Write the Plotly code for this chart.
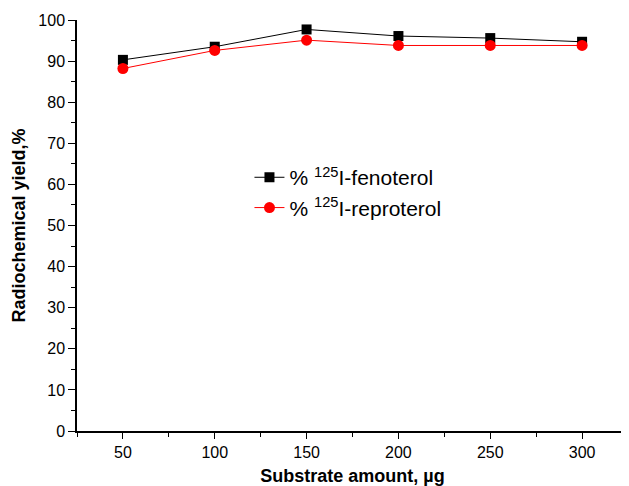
import plotly.graph_objects as go

x_vals = [50, 100, 150, 200, 250, 300]
fenoterol = [90.3, 93.5, 97.7, 96.1, 95.6, 94.7]
reproterol = [88.2, 92.6, 95.1, 93.8, 93.8, 93.8]
x_ticks = [50, 100, 150, 200, 250, 300]
y_ticks = [0, 10, 20, 30, 40, 50, 60, 70, 80, 90, 100]

font = "Liberation Sans, Arial, Helvetica, sans-serif"

fig = go.Figure()
fig.add_trace(go.Scatter(
    x=x_vals, y=fenoterol, mode="lines+markers",
    name="% <sup>125</sup>I-fenoterol",
    line=dict(color="black", width=1),
    marker=dict(symbol="square", size=10, color="black"),
))
fig.add_trace(go.Scatter(
    x=x_vals, y=reproterol, mode="lines+markers",
    name="% <sup>125</sup>I-reproterol",
    line=dict(color="red", width=1),
    marker=dict(symbol="circle", size=11, color="red"),
))

# the page body adds an 8px offset; the figure is sized to fill the rest
fig.update_layout(
    width=621, height=478,
    margin=dict(l=69, r=1, t=12, b=55),
    plot_bgcolor="white", paper_bgcolor="white",
    font=dict(family=font, color="black", size=16),
    showlegend=True,
    legend=dict(x=0.313, y=0.58, xanchor="left", yanchor="middle",
                bgcolor="rgba(0,0,0,0)", font=dict(size=21, family=font),
                tracegroupgap=0, itemwidth=30),
)
fig.update_xaxes(
    range=[25, 325], tickvals=x_ticks, showgrid=False, zeroline=False,
    showline=True, linecolor="black", linewidth=1.5, automargin=False,
    ticks="outside", ticklen=6, tickwidth=1.2, tickcolor="black",
    minor=dict(ticks="outside", ticklen=4, tickwidth=1.2, tickcolor="black", dtick=25, tick0=25),
    title=dict(text="<b>Substrate amount, µg</b>", font=dict(size=18), standoff=12),
    tickfont=dict(size=16),
)
fig.update_yaxes(
    range=[0, 100], tickvals=y_ticks, showgrid=False, zeroline=False,
    showline=True, linecolor="black", linewidth=1.5, automargin=False,
    ticks="outside", ticklen=7, tickwidth=1.2, tickcolor="black",
    minor=dict(ticks="outside", ticklen=4, tickwidth=1.2, tickcolor="black", dtick=5, tick0=5),
    title=dict(text="<b>Radiochemical yield,%</b>", font=dict(size=18), standoff=8),
    tickfont=dict(size=16),
)

fig.write_html("out.html")
